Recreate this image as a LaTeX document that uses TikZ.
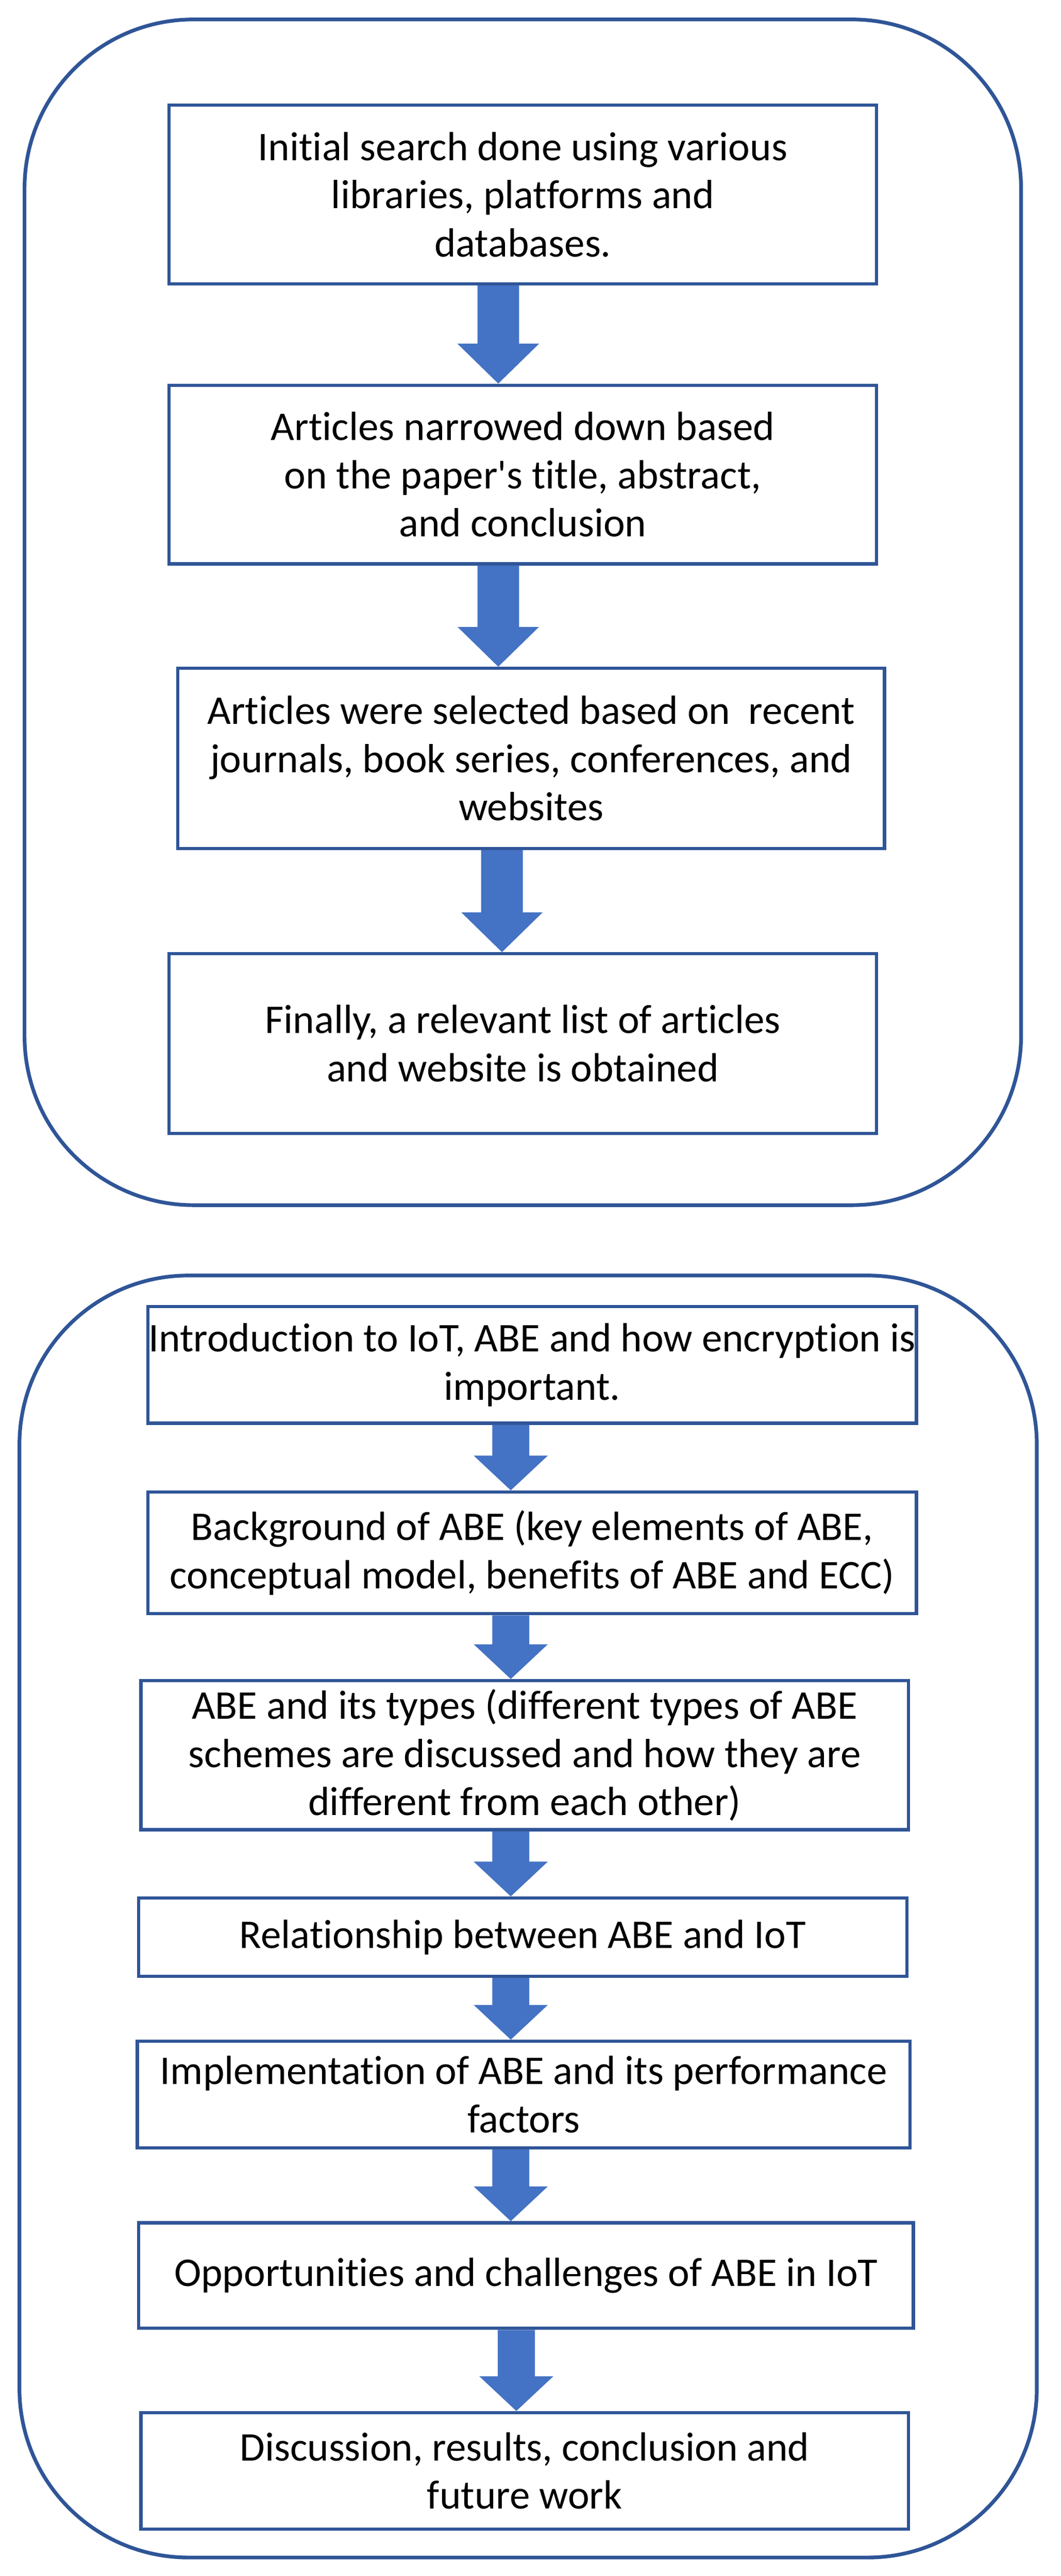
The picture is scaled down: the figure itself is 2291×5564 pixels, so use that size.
\documentclass[tikz,border=0pt]{standalone}
\usepackage{fontspec}
\setmainfont{Carlito}[Ligatures=NoCommon]
\usetikzlibrary{calc}
\definecolor{bord}{HTML}{2F5597}
\definecolor{arrc}{HTML}{4472C4}
\tikzset{
  box/.style={draw=bord,line width=7pt,fill=white,align=center,inner sep=0pt,
    font=\fontsize{88}{104}\selectfont},
  frame/.style={draw=bord,line width=8pt,rounded corners=365pt},
  arr/.style={fill=arrc}
}
\newcommand\flowarrow[6]{% from, to, x, shaft half, head half, head height
  \fill[arr] let \p1=(#1.south), \p2=(#2.north) in
    (#3pt-#4pt,\y1) -- (#3pt+#4pt,\y1) -- (#3pt+#4pt,\y2+#6pt) -- (#3pt+#5pt,\y2+#6pt)
    -- (#3pt,\y2) -- (#3pt-#5pt,\y2+#6pt) -- (#3pt-#4pt,\y2+#6pt) -- cycle;}
\begin{document}
\begin{tikzpicture}[x=1pt,y=-1pt]
\useasboundingbox (0,0) rectangle (2291,5564);
\draw[frame] (53,42) rectangle (2205,2603);
\draw[frame] (42,2755) rectangle (2239,5524);
\node[box,minimum width=1528,minimum height=386] (t1) at (1129,420) {Initial search done using various\\libraries, platforms and\\databases.};
\node[box,minimum width=1528,minimum height=386] (t2) at (1129,1025) {Articles narrowed down based\\on the paper\textquotesingle s title, abstract,\\and conclusion};
\node[box,minimum width=1526,minimum height=389] (t3) at (1147,1638) {Articles were selected based on\ \ recent\\journals, book series, conferences, and\\websites};
\node[box,minimum width=1528,minimum height=388] (t4) at (1129,2254) {Finally, a relevant list of articles\\and website is obtained};
\flowarrow{t1}{t2}{1076}{45}{88}{86}
\flowarrow{t2}{t3}{1076}{45}{88}{86}
\flowarrow{t3}{t4}{1084}{45}{88}{86}
\node[box,minimum width=1660,minimum height=252] (b1) at (1149,2948) {Introduction to IoT, ABE and how encryption is\\important.};
\node[box,minimum width=1660,minimum height=263] (b2) at (1149,3354) {Background of ABE (key elements of ABE,\\conceptual model, benefits of ABE and ECC)};
\node[box,minimum width=1657,minimum height=322] (b3) at (1133,3791) {ABE and its types (different types of ABE\\schemes are discussed and how they are\\different from each other)};
\node[box,minimum width=1659,minimum height=169] (b4) at (1129,4184) {Relationship between ABE and IoT};
\node[box,minimum width=1669,minimum height=230] (b5) at (1131,4524) {Implementation of ABE and its performance\\factors};
\node[box,minimum width=1673,minimum height=228] (b6) at (1136,4915) {Opportunities and challenges of ABE in IoT};
\node[box,minimum width=1657,minimum height=252] (b7) at (1133,5337) {Discussion, results, conclusion and\\future work};
\flowarrow{b1}{b2}{1103}{40}{80}{75}
\flowarrow{b2}{b3}{1103}{40}{80}{75}
\flowarrow{b3}{b4}{1103}{40}{80}{75}
\flowarrow{b4}{b5}{1103}{40}{80}{75}
\flowarrow{b5}{b6}{1103}{40}{80}{75}
\flowarrow{b6}{b7}{1115}{40}{80}{75}
\end{tikzpicture}
\end{document}
